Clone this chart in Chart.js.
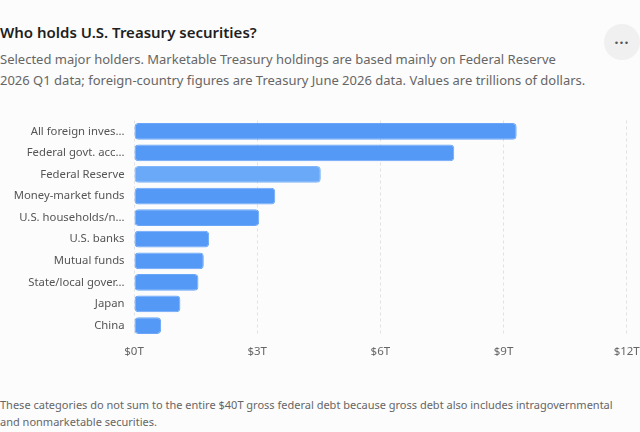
<!DOCTYPE html>
<html><head><meta charset="utf-8">
<script src="https://cdn.jsdelivr.net/npm/chart.js@4.4.1/dist/chart.umd.min.js"></script>
<style>
html,body{margin:0;padding:0;background:#fcfcfc;width:640px;height:432px;overflow:hidden;font-family:"Noto Sans",sans-serif;}
#title{position:absolute;left:0;top:22px;font-size:15px;font-weight:600;color:#1f1f1f;white-space:nowrap;}
#sub{position:absolute;left:0;top:49px;font-size:13px;line-height:21px;color:#666;white-space:nowrap;}
#menu{position:absolute;left:604px;top:24px;width:36px;height:36px;border-radius:50%;background:#f0f0f0;color:#555;font-size:14px;font-weight:700;text-align:center;line-height:30px;letter-spacing:1px;}
#c{position:absolute;left:0;top:110px;}
#foot{position:absolute;left:0;top:396px;font-size:11px;line-height:17px;color:#666;white-space:nowrap;}
</style></head>
<body>
<div id="title">Who holds U.S. Treasury securities?</div>
<div id="sub">Selected major holders. Marketable Treasury holdings are based mainly on Federal Reserve<br>2026 Q1 data; foreign-country figures are Treasury June 2026 data. Values are trillions of dollars.</div>
<div id="menu">...</div>
<canvas id="c" width="640" height="250"></canvas>
<div id="foot">These categories do not sum to the entire $40T gross federal debt because gross debt also includes intragovernmental<br>and nonmarketable securities.</div>
<script>
const categories = ["All foreign investors","Federal govt. accounts","Federal Reserve","Money-market funds","U.S. households/nonprofits","U.S. banks","Mutual funds","State/local governments","Japan","China"];
const holdings = [9.32, 7.8, 4.55, 3.44, 3.05, 1.83, 1.7, 1.57, 1.13, 0.66];
const xTicks = [0, 3, 6, 9, 12];
const highlighted = "Federal Reserve";

const barColor = "#5599f6";
const barColorLight = "#6aa8f8";

new Chart(document.getElementById("c"), {
  type: "bar",
  data: {
    labels: categories,
    datasets: [{
      data: holdings,
      backgroundColor: ctx => categories[ctx.dataIndex] === highlighted ? barColorLight : barColor,
      borderColor: ctx => categories[ctx.dataIndex] === highlighted ? "#7fb5fa" : "#6aa6f8",
      borderWidth: 1,
      borderRadius: 4,
      borderSkipped: false,
      barPercentage: 0.97,
      categoryPercentage: 0.8
    }]
  },
  options: {
    indexAxis: "y",
    responsive: false,
    animation: false,
    devicePixelRatio: 1,
    layout: { padding: { left: 0, right: 13.3, top: 10.5, bottom: 0.7 } },
    plugins: { legend: { display: false }, tooltip: { enabled: false } },
    scales: {
      x: {
        min: xTicks[0], max: xTicks[xTicks.length - 1],
        afterBuildTicks: s => { s.ticks = xTicks.map(v => ({ value: v })); },
        afterFit: s => { s.paddingLeft = 0; s.paddingRight = 0; s.height = 23; },
        ticks: { callback: v => "$" + v + "T", color: "#666", font: { family: "Noto Sans", size: 11.5 }, padding: 9 },
        grid: { color: "#e2e2e2", drawTicks: false },
        border: { display: false, dash: [3, 3] }
      },
      y: {
        afterFit: s => { s.width = 134; s.paddingTop = 0; s.paddingBottom = 0; },
        ticks: {
          color: "#555", font: { family: "Noto Sans", size: 11.3 }, padding: 9.5,
          callback: function (v) { const l = this.getLabelForValue(v); return l.length > 18 ? l.slice(0, 17) + "..." : l; }
        },
        grid: { display: false, drawTicks: false },
        border: { display: false }
      }
    }
  }
});
</script>
</body></html>
